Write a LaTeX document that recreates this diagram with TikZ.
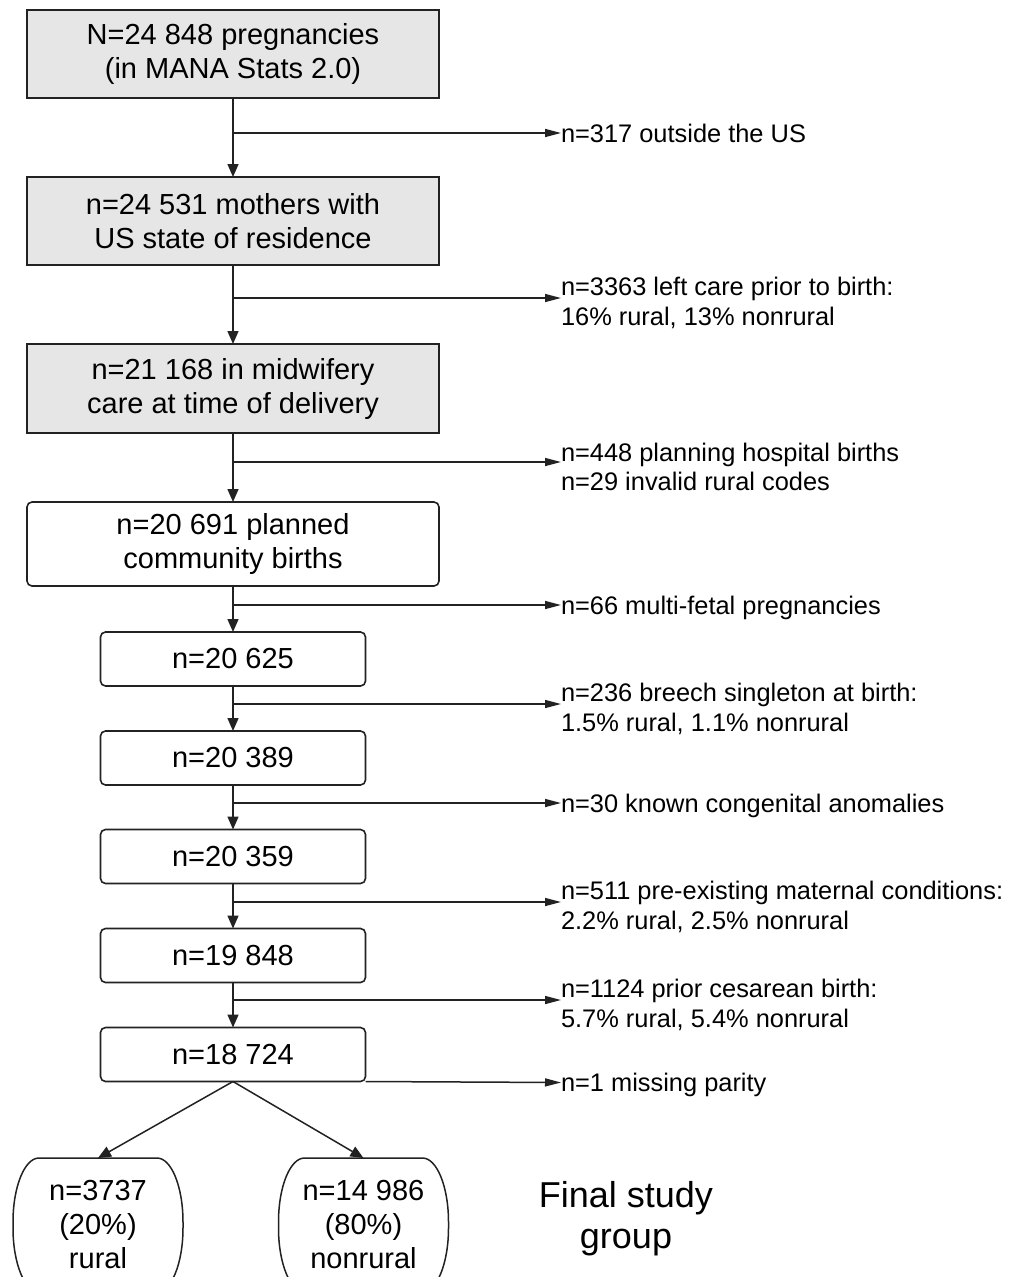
\documentclass[tikz,border=0pt]{standalone}
\usepackage{fontspec}
\setmainfont{Liberation Sans}
\usetikzlibrary{arrows.meta}
\definecolor{boxgray}{HTML}{E6E6E6}
\definecolor{linegray}{HTML}{222222}

\begin{document}
\begin{tikzpicture}[x=1pt,y=1pt,
  bigbox/.style={draw=linegray, line width=1.6pt, minimum width=412pt, inner sep=0pt, outer sep=0pt, align=center, font=\fontsize{29}{34}\selectfont},
  graybox/.style={bigbox, fill=boxgray, minimum height=88pt},
  whitebox/.style={bigbox, rounded corners=5pt, minimum height=84pt},
  countbox/.style={bigbox, rounded corners=5pt, minimum width=265pt, minimum height=54pt},
  splitbox/.style={inner sep=0pt, outer sep=0pt, minimum width=170pt, minimum height=134pt, align=center, font=\fontsize{29}{34}\selectfont},
  excl/.style={anchor=west, inner sep=0pt, outer sep=0pt, align=left, font=\fontsize{25.4}{29.5}\selectfont},
  oneline/.style={excl, text height=18pt, text depth=0pt},
  flow/.style={line width=1.5pt, draw=linegray, -{Triangle[length=13pt,width=11pt]}},
  side/.style={line width=1.5pt, draw=linegray, -{Triangle[length=16pt,width=8pt]}}]
\useasboundingbox (0,0) rectangle (1012,-1277);

\node[graybox] (b1) at (233,-54) {N=24 848 pregnancies\\(in MANA Stats 2.0)};
\node[graybox] (b2) at (233,-221) {n=24 531 mothers with\\US state of residence};
\node[graybox, minimum height=89pt] (b3) at (233,-388.5) {n=21 168 in midwifery\\care at time of delivery};
\node[whitebox] (b4) at (233,-544) {n=20 691 planned\\community births};
\node[countbox] (b5) at (233,-659) {n=20 625};
\node[countbox] (b6) at (233,-758) {n=20 389};
\node[countbox] (b7) at (233,-856.5) {n=20 359};
\node[countbox] (b8) at (233,-955.5) {n=19 848};
\node[countbox] (b9) at (233,-1054.5) {n=18 724};

\node[splitbox] (rural) at (98,-1225) {n=3737\\(20\%)\\rural};
\node[splitbox] (nonrural) at (363.5,-1225) {n=14 986\\(80\%)\\nonrural};
\node[align=center, font=\fontsize{36}{41}\selectfont] (final) at (626,-1219) {Final study\\group};

\node[oneline] (x1) at (561,-133) {n=317 outside the US};
\node[excl] (x2) at (561,-303) {n=3363 left care prior to birth:\\16\% rural, 13\% nonrural};
\node[excl] (x3) at (561,-467) {n=448 planning hospital births\\n=29 invalid rural codes};
\node[oneline] (x4) at (561,-605) {n=66 multi-fetal pregnancies};
\node[excl] (x5) at (561,-709) {n=236 breech singleton at birth:\\1.5\% rural, 1.1\% nonrural};
\node[oneline] (x6) at (561,-803) {n=30 known congenital anomalies};
\node[excl] (x7) at (561,-907) {n=511 pre-existing maternal conditions:\\2.2\% rural, 2.5\% nonrural};
\node[excl] (x8) at (561,-1005) {n=1124 prior cesarean birth:\\5.7\% rural, 5.4\% nonrural};
\node[oneline] (x9) at (561,-1082.5) {n=1 missing parity};

\foreach \a/\b in {b1/b2,b2/b3,b3/b4,b4/b5,b5/b6,b6/b7,b7/b8,b8/b9}
  \draw[flow] (\a.south) -- (\b.north);
\foreach \a/\x in {b1/x1,b4/x4,b6/x6}
  \draw[side] (\a.south |- \x.west) -- (\x.west);
\foreach \a/\x in {b2/x2,b3/x3,b5/x5,b7/x7,b8/x8}{
  \coordinate (tip) at ([yshift=5pt]\x.west);
  \draw[side] (\a.south |- tip) -- (tip);
}
\draw[side] (b9.south east) -- (x9.west);

\draw[flow] (b9.south) -- (rural.north);
\draw[flow] (b9.south) -- (nonrural.north);

\foreach \n in {rural,nonrural}
  \draw[linegray, line width=1.5pt] ([xshift=26pt]\n.north west) -- ([xshift=-26pt]\n.north east)
    arc[start angle=90, end angle=0, x radius=26, y radius=64] -- ([yshift=64pt]\n.south east)
    arc[start angle=0, end angle=-90, x radius=26, y radius=64] -- ([xshift=26pt]\n.south west)
    arc[start angle=270, end angle=180, x radius=26, y radius=64] -- ([yshift=-64pt]\n.north west)
    arc[start angle=180, end angle=90, x radius=26, y radius=64] -- cycle;
\end{tikzpicture}
\end{document}
